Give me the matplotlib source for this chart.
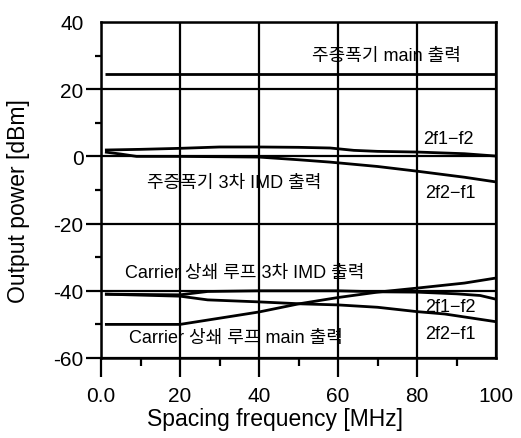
import matplotlib
matplotlib.use("Agg")
import matplotlib.pyplot as plt

plt.rcParams['font.family'] = ['Liberation Sans', 'Noto Sans CJK KR', 'DejaVu Sans']
plt.rcParams['axes.unicode_minus'] = False

# Main amplifier output
main_x = [1, 100]
main_y = [24.5, 24.5]

# Main amplifier 3rd-order IMD (2f1-f2 / 2f2-f1)
main_imd_a_x = [1, 10, 20, 30, 40, 50, 58, 64, 70, 80, 92, 100]
main_imd_a_y = [1.9, 2.1, 2.4, 2.8, 2.8, 2.7, 2.5, 1.8, 1.5, 1.3, 0.8, 0.1]
main_imd_b_x = [1, 5, 9, 20, 40, 50, 58, 70, 80, 92, 100]
main_imd_b_y = [1.3, 0.7, 0.0, 0.0, -0.2, -1.0, -1.7, -3.0, -4.4, -6.2, -7.6]

# Carrier cancellation loop main output
loop_main_x = [1, 20, 33, 40, 50, 60, 70, 80, 92, 100]
loop_main_y = [-50, -50, -47.6, -46.3, -43.9, -42, -40.4, -39.2, -37.7, -36.2]

# Carrier cancellation loop 3rd-order IMD (2f1-f2 / 2f2-f1)
loop_imd_a_x = [1, 20, 27, 40, 60, 70, 80, 90, 96, 100]
loop_imd_a_y = [-41, -41.2, -40.2, -40, -40, -40.3, -40.4, -40.9, -41.4, -42.5]
loop_imd_b_x = [1, 20, 27, 40, 51, 60, 70, 80, 87, 100]
loop_imd_b_y = [-41, -41.6, -42.7, -43.3, -43.9, -44.2, -44.9, -46.2, -46.9, -49.2]

x_ticks = [0, 20, 40, 60, 80, 100]
x_tick_labels = ['0.0', '20', '40', '60', '80', '100']
y_ticks = [-60, -40, -20, 0, 20, 40]
y_tick_labels = ['-60', '-40', '-20', '0', '20', '40']

fig = plt.figure(figsize=(5.21, 4.39), dpi=100)
ax = fig.add_axes([101 / 521, 1 - 359 / 439, 395 / 521, 336 / 439])

lw = 2.0
for xs, ys in [(main_x, main_y), (main_imd_a_x, main_imd_a_y), (main_imd_b_x, main_imd_b_y),
               (loop_main_x, loop_main_y), (loop_imd_a_x, loop_imd_a_y),
               (loop_imd_b_x, loop_imd_b_y)]:
    ax.plot(xs, ys, color='black', lw=lw, solid_joinstyle='round', solid_capstyle='butt')

ax.set_xlim(0, 100)
ax.set_ylim(-60, 40)
ax.set_xticks(x_ticks)
ax.set_xticklabels(x_tick_labels)
ax.set_yticks(y_ticks)
ax.set_yticklabels(y_tick_labels)
ax.set_xticks([10, 30, 50, 70, 90], minor=True)
ax.set_yticks([-50, -30, -10, 10, 30], minor=True)

ax.grid(True, which='major', color='black', lw=1.6)
ax.set_axisbelow(True)
for s in ax.spines.values():
    s.set_linewidth(1.8)

ax.tick_params(axis='x', which='major', direction='out', length=14, width=1.6, pad=6, labelsize=15)
ax.tick_params(axis='x', which='minor', direction='out', length=6, width=1.6)
ax.tick_params(axis='y', which='major', direction='out', length=11, width=1.6, pad=1.5, labelsize=15)
ax.tick_params(axis='y', which='minor', direction='out', length=4.5, width=1.6)
ax.xaxis.get_major_ticks()[-1].tick1line.set_visible(False)
ax.yaxis.get_major_ticks()[-1].tick1line.set_visible(False)

ax.set_xlabel('Spacing frequency [MHz]', fontsize=16.5)
ax.set_ylabel('Output power [dBm]', fontsize=16.5)
ax.xaxis.set_label_coords(0.44, -0.146)
ax.yaxis.set_label_coords(-0.18, 0.47)

fs = 13
ax.text(53.4, 30, '주증폭기 main 출력', fontsize=fs, ha='left', va='center')
ax.text(81.5, 5.4, '2f1−f2', fontsize=fs, ha='left', va='center')
ax.text(11.6, -7.7, '주증폭기 3차 IMD 출력', fontsize=fs, ha='left', va='center')
ax.text(82, -10.7, '2f2−f1', fontsize=fs, ha='left', va='center')
ax.text(6, -34.5, 'Carrier 상쇄 루프 3차 IMD 출력', fontsize=fs, ha='left', va='center')
ax.text(82, -44.6, '2f1−f2', fontsize=fs, ha='left', va='center')
ax.text(82, -52.7, '2f2−f1', fontsize=fs, ha='left', va='center')
ax.text(7, -53.9, 'Carrier 상쇄 루프 main 출력', fontsize=fs, ha='left', va='center')

fig.savefig('out.png', dpi=100)
